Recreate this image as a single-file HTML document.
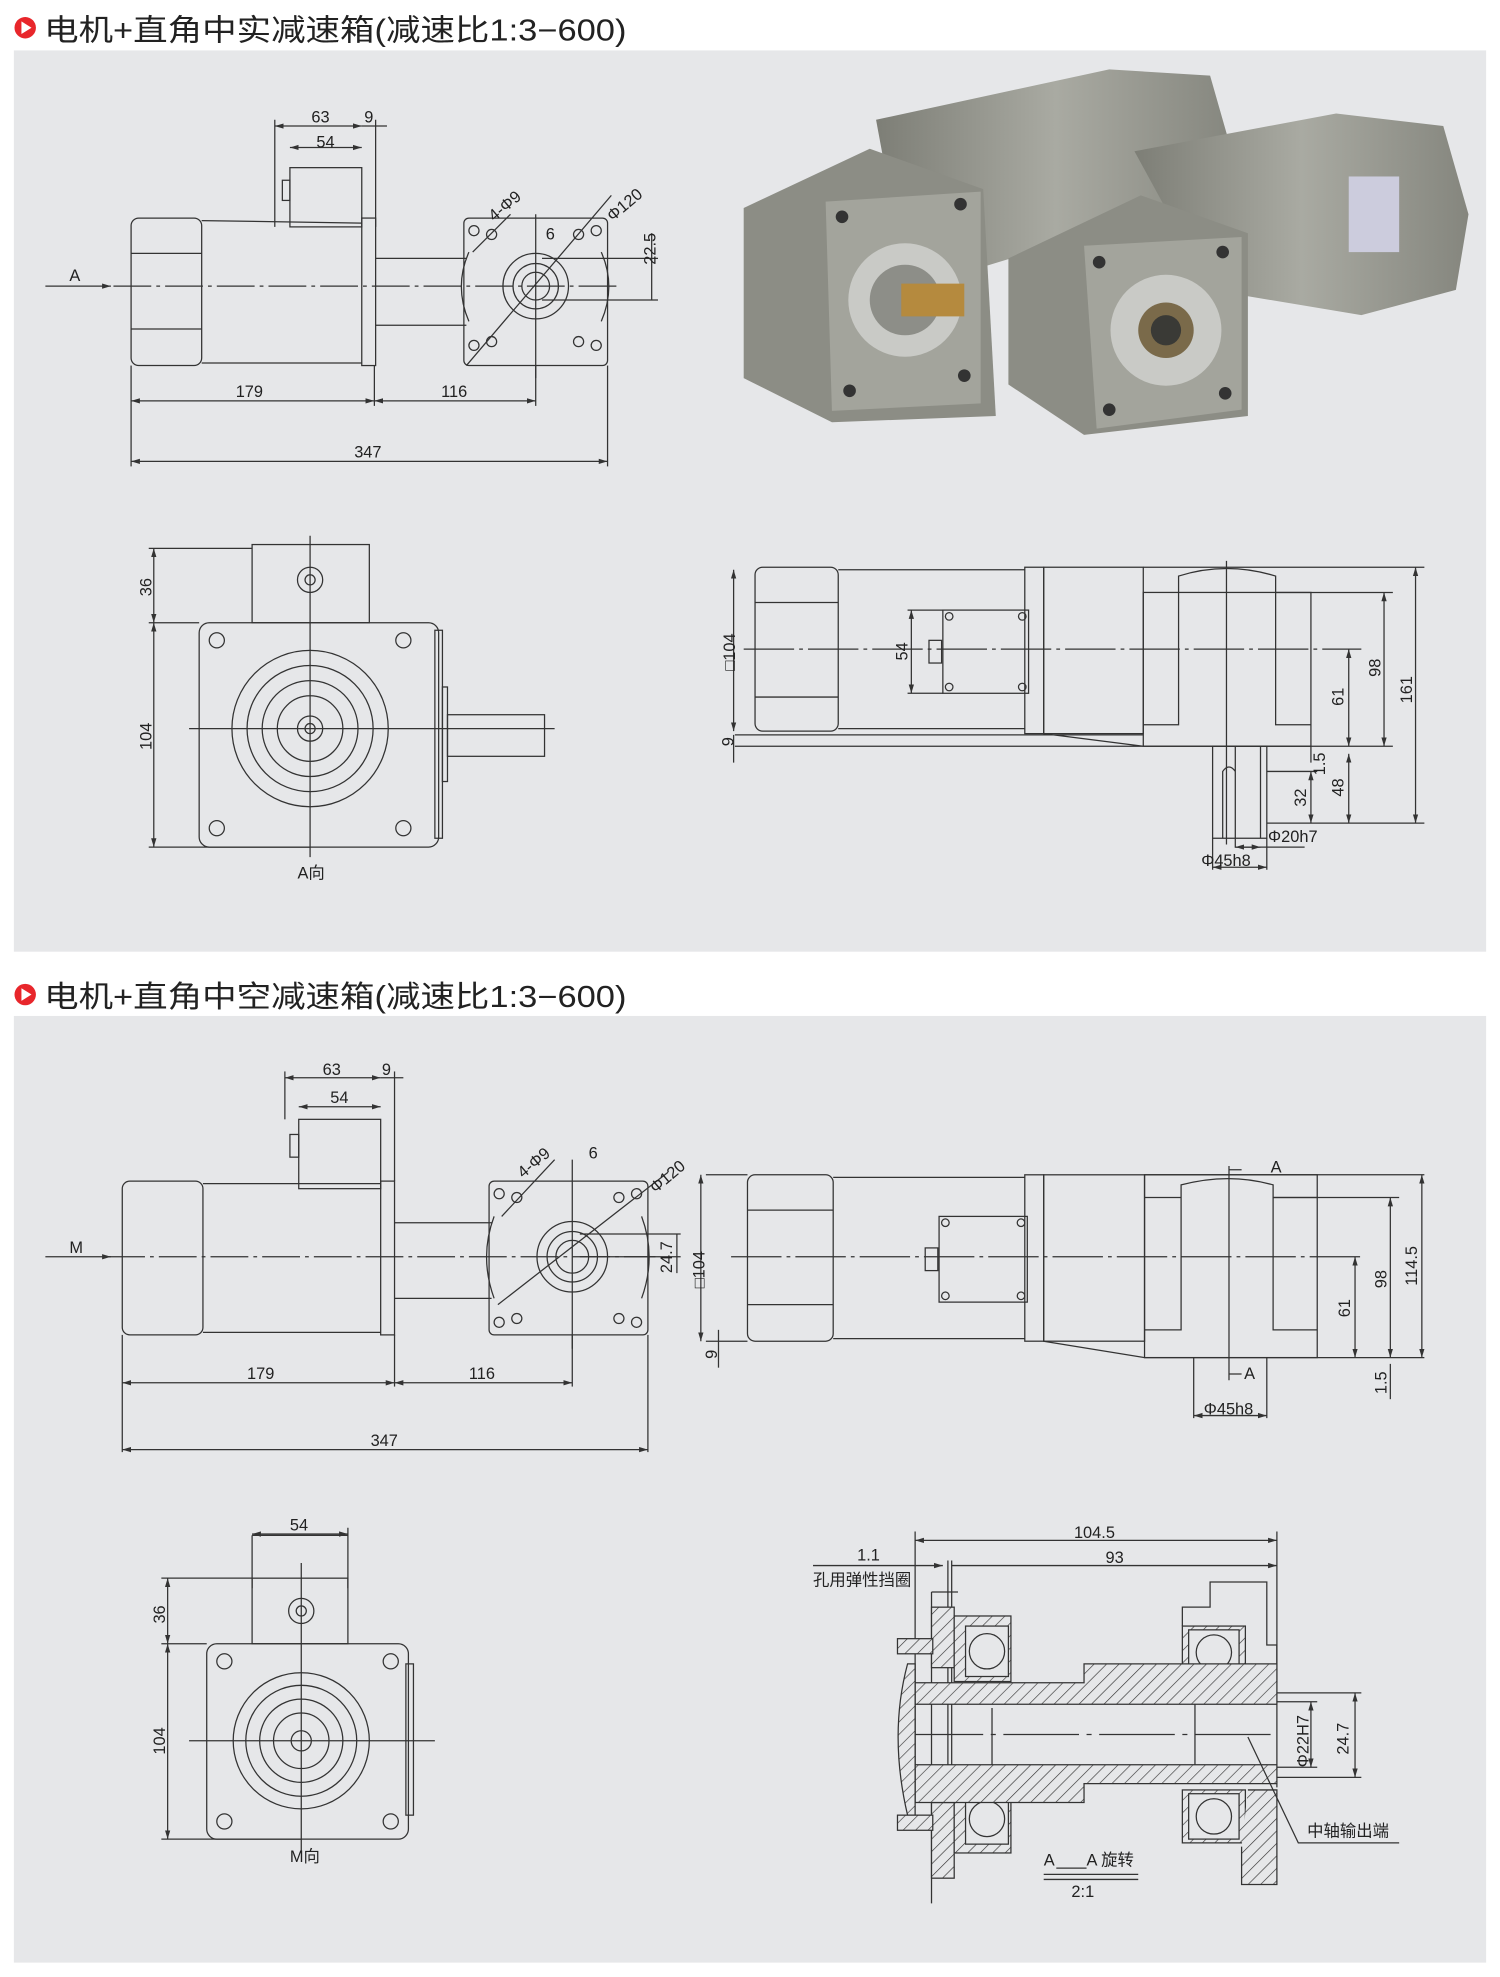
<!DOCTYPE html>
<html><head><meta charset="utf-8"><style>
html,body{margin:0;padding:0;background:#fff}
svg{display:block}
text{font-family:"Liberation Sans","Noto Sans CJK SC",sans-serif;fill:#222}
</style></head><body>
<svg width="1500" height="1977" viewBox="0 0 1190 1568.4" preserveAspectRatio="none" xmlns="http://www.w3.org/2000/svg">
<defs>
<pattern id="h" width="7" height="7" patternUnits="userSpaceOnUse" patternTransform="rotate(45)"><rect width="7" height="7" fill="#e6e7e9"/><line x1="0" y1="0" x2="0" y2="7" stroke="#333" stroke-width="1"/></pattern>
<marker id="a" viewBox="0 0 10 10" refX="10" refY="5" markerWidth="7" markerHeight="7" orient="auto-start-reverse"><path d="M0,2L10,5L0,8z" fill="#333"/></marker>
<linearGradient id="g1" x1="0" y1="0" x2="1" y2="0"><stop offset="0" stop-color="#7d7e76"/><stop offset="0.5" stop-color="#a9aaa2"/><stop offset="1" stop-color="#85867e"/></linearGradient>
</defs>
<rect width="1190" height="1568.4" fill="#fff"/>
<!-- Titles -->
<circle cx="20" cy="22" r="8.5" fill="#e8262b"/><path d="M17,17L25,22L17,27z" fill="#fff"/>
<text x="35" y="32" font-size="24" textLength="462" lengthAdjust="spacingAndGlyphs">电机+直角中实减速箱(减速比1:3−600)</text>
<circle cx="20" cy="789" r="8.5" fill="#e8262b"/><path d="M17,784L25,789L17,794z" fill="#fff"/>
<text x="35" y="799" font-size="24" textLength="462" lengthAdjust="spacingAndGlyphs">电机+直角中空减速箱(减速比1:3−600)</text>
<rect x="11" y="40" width="1168" height="715" fill="#e6e7e9"/>
<rect x="11" y="806" width="1168" height="751" fill="#e6e7e9"/>

<g fill="none" stroke="#333" stroke-width="1">
<!-- ===== Panel1 side view ===== -->
<rect x="104" y="173" width="56" height="117" rx="6"/>
<line x1="104" y1="201" x2="160" y2="201"/><line x1="104" y1="261" x2="160" y2="261"/>
<path d="M160,175L287,177M160,288L287,288"/>
<rect x="287" y="173" width="11" height="117"/>
<rect x="230" y="133" width="57" height="47"/><rect x="224" y="143" width="6" height="16"/>
<path d="M298,205H370M298,258H370"/>
<rect x="368" y="173" width="114" height="117" rx="4"/>
<circle cx="425" cy="227" r="26"/><circle cx="425" cy="227" r="18"/><circle cx="425" cy="227" r="11"/>
<circle cx="376" cy="183" r="4"/><circle cx="473" cy="183" r="4"/><circle cx="376" cy="274" r="4"/><circle cx="473" cy="274" r="4"/>
<circle cx="390" cy="186" r="4"/><circle cx="459" cy="186" r="4"/><circle cx="390" cy="271" r="4"/><circle cx="459" cy="271" r="4"/>
<path d="M372,200Q360,227 372,255M477,200Q489,227 477,255" />
<line x1="90" y1="227" x2="490" y2="227" stroke-dasharray="30,4,3,4"/>
<line x1="425" y1="170" x2="425" y2="300"/>
<line x1="370" y1="290" x2="485" y2="155"/>
<line x1="375" y1="200" x2="405" y2="170"/>
<line x1="36" y1="227" x2="88" y2="227" marker-end="url(#a)"/>
<line x1="218" y1="95" x2="218" y2="180"/><line x1="298" y1="95" x2="298" y2="180"/>
<line x1="218" y1="100" x2="287" y2="100" marker-start="url(#a)" marker-end="url(#a)"/>
<line x1="287" y1="100" x2="307" y2="100"/>
<line x1="230" y1="117" x2="287" y2="117" marker-start="url(#a)" marker-end="url(#a)"/>
<line x1="104" y1="290" x2="104" y2="370"/><line x1="297" y1="290" x2="297" y2="322"/><line x1="425" y1="290" x2="425" y2="322"/><line x1="482" y1="290" x2="482" y2="370"/>
<line x1="104" y1="318" x2="297" y2="318" marker-start="url(#a)" marker-end="url(#a)"/>
<line x1="297" y1="318" x2="425" y2="318" marker-start="url(#a)" marker-end="url(#a)"/>
<line x1="104" y1="366" x2="482" y2="366" marker-start="url(#a)" marker-end="url(#a)"/>
<path d="M430,205H522M430,238H522"/>
<line x1="517" y1="185" x2="517" y2="238"/>

<!-- ===== Panel1 A view ===== -->
<rect x="200" y="432" width="93" height="62"/>
<circle cx="246" cy="460" r="10"/><circle cx="246" cy="460" r="4"/>
<rect x="158" y="494" width="190" height="178" rx="8"/>
<rect x="345" y="500" width="6" height="165"/>
<rect x="351" y="545" width="4" height="75"/>
<rect x="355" y="567" width="77" height="33"/>
<circle cx="246" cy="578" r="62"/><circle cx="246" cy="578" r="50"/><circle cx="246" cy="578" r="38"/><circle cx="246" cy="578" r="26"/><circle cx="246" cy="578" r="10"/><circle cx="246" cy="578" r="4"/>
<circle cx="172" cy="508" r="6"/><circle cx="320" cy="508" r="6"/><circle cx="172" cy="657" r="6"/><circle cx="320" cy="657" r="6"/>
<line x1="150" y1="578" x2="440" y2="578"/><line x1="246" y1="425" x2="246" y2="680"/>
<path d="M118,435H200M118,494H158M118,672H246"/>
<line x1="122" y1="435" x2="122" y2="494" marker-start="url(#a)" marker-end="url(#a)"/>
<line x1="122" y1="494" x2="122" y2="672" marker-start="url(#a)" marker-end="url(#a)"/>

<!-- ===== Panel1 right view ===== -->
<rect x="599" y="450" width="66" height="130" rx="6"/>
<path d="M599,478H665M599,553H665M665,452L813,452M665,578L813,578"/>
<rect x="813" y="450" width="15" height="132"/>
<rect x="748" y="484" width="68" height="66"/><rect x="737" y="508" width="10" height="18"/>
<circle cx="753" cy="489" r="3"/><circle cx="811" cy="489" r="3"/><circle cx="753" cy="545" r="3"/><circle cx="811" cy="545" r="3"/>
<rect x="828" y="450" width="79" height="132"/>
<rect x="907" y="470" width="133" height="122"/>
<path d="M935,470V457Q973,445 1012,457V470"/>
<path d="M935,470V575H907M1012,470V575H1040"/>
<path d="M583,583H907M583,592H1040M828,582L907,592"/>
<rect x="962" y="592" width="43" height="73"/>
<path d="M980,592V665M1000,592V665M970,665V612Q975,605 980,612"/>
<line x1="590" y1="515" x2="1080" y2="515" stroke-dasharray="40,4,3,4"/>
<line x1="973" y1="445" x2="973" y2="670"/>
<path d="M1012,470H1105M1040,592H1105M1005,653H1130M907,450H1130"/>
<line x1="582" y1="452" x2="582" y2="580" marker-start="url(#a)" marker-end="url(#a)"/>
<line x1="582" y1="583" x2="582" y2="605"/>
<line x1="723" y1="484" x2="723" y2="550" marker-start="url(#a)" marker-end="url(#a)"/>
<path d="M720,484H748M720,550H748"/>
<line x1="1070" y1="515" x2="1070" y2="592" marker-start="url(#a)" marker-end="url(#a)"/>
<line x1="1098" y1="470" x2="1098" y2="592" marker-start="url(#a)" marker-end="url(#a)"/>
<line x1="1123" y1="450" x2="1123" y2="653" marker-start="url(#a)" marker-end="url(#a)"/>
<line x1="1070" y1="598" x2="1070" y2="653" marker-start="url(#a)" marker-end="url(#a)"/>
<line x1="1040" y1="612" x2="1040" y2="653" marker-start="url(#a)" marker-end="url(#a)"/>
<path d="M1005,612H1045M1040,592V605"/>
<path d="M962,665V690M1005,665V690M980,665V672H1035"/>
<line x1="962" y1="688" x2="1005" y2="688" marker-start="url(#a)" marker-end="url(#a)"/>
<line x1="980" y1="672" x2="1000" y2="672" marker-start="url(#a)" marker-end="url(#a)"/>

<!-- ===== Panel2 side view ===== -->
<rect x="97" y="937" width="64" height="122" rx="6"/>
<path d="M161,939L302,939M161,1057L302,1057"/>
<rect x="302" y="937" width="11" height="122"/>
<rect x="237" y="888" width="65" height="55"/><rect x="230" y="900" width="7" height="18"/>
<path d="M313,970H390M313,1030H390"/>
<rect x="388" y="937" width="126" height="122" rx="4"/>
<circle cx="454" cy="997" r="28"/><circle cx="454" cy="997" r="20"/><circle cx="454" cy="997" r="13"/>
<circle cx="396" cy="947" r="4"/><circle cx="505" cy="947" r="4"/><circle cx="396" cy="1049" r="4"/><circle cx="505" cy="1049" r="4"/>
<circle cx="410" cy="950" r="4"/><circle cx="491" cy="950" r="4"/><circle cx="410" cy="1046" r="4"/><circle cx="491" cy="1046" r="4"/>
<path d="M392,965Q380,997 392,1030M509,965Q521,997 509,1030"/>
<line x1="85" y1="997" x2="520" y2="997" stroke-dasharray="30,4,3,4"/>
<line x1="454" y1="920" x2="454" y2="1070"/>
<line x1="395" y1="1035" x2="530" y2="930"/>
<line x1="398" y1="965" x2="440" y2="920"/>
<line x1="36" y1="997" x2="88" y2="997" marker-end="url(#a)"/>
<line x1="226" y1="850" x2="226" y2="888"/><line x1="313" y1="850" x2="313" y2="937"/>
<line x1="226" y1="855" x2="302" y2="855" marker-start="url(#a)" marker-end="url(#a)"/>
<line x1="302" y1="855" x2="320" y2="855"/>
<line x1="237" y1="878" x2="302" y2="878" marker-start="url(#a)" marker-end="url(#a)"/>
<line x1="97" y1="1059" x2="97" y2="1152"/><line x1="313" y1="1059" x2="313" y2="1100"/><line x1="454" y1="1059" x2="454" y2="1100"/><line x1="514" y1="1059" x2="514" y2="1152"/>
<line x1="97" y1="1097" x2="313" y2="1097" marker-start="url(#a)" marker-end="url(#a)"/>
<line x1="313" y1="1097" x2="454" y2="1097" marker-start="url(#a)" marker-end="url(#a)"/>
<line x1="97" y1="1150" x2="514" y2="1150" marker-start="url(#a)" marker-end="url(#a)"/>
<path d="M460,979H540M460,997H540"/>
<line x1="537" y1="979" x2="537" y2="1010"/>

<!-- ===== Panel2 M view ===== -->
<path d="M200,1218H276M200,1218V1260"/>
<line x1="200" y1="1217" x2="276" y2="1217" marker-start="url(#a)" marker-end="url(#a)"/>
<line x1="276" y1="1212" x2="276" y2="1260"/>
<rect x="200" y="1252" width="76" height="52"/>
<circle cx="239" cy="1278" r="10"/><circle cx="239" cy="1278" r="4"/>
<rect x="164" y="1304" width="160" height="155" rx="8"/>
<rect x="322" y="1320" width="6" height="120"/>
<circle cx="239" cy="1381" r="54"/><circle cx="239" cy="1381" r="44"/><circle cx="239" cy="1381" r="33"/><circle cx="239" cy="1381" r="22"/><circle cx="239" cy="1381" r="8"/>
<circle cx="178" cy="1318" r="6"/><circle cx="310" cy="1318" r="6"/><circle cx="178" cy="1445" r="6"/><circle cx="310" cy="1445" r="6"/>
<line x1="150" y1="1381" x2="345" y2="1381"/><line x1="239" y1="1240" x2="239" y2="1470"/>
<path d="M128,1252H200M128,1304H164M128,1459H239"/>
<line x1="133" y1="1252" x2="133" y2="1304" marker-start="url(#a)" marker-end="url(#a)"/>
<line x1="133" y1="1304" x2="133" y2="1459" marker-start="url(#a)" marker-end="url(#a)"/>

<!-- ===== Panel2 right view ===== -->
<rect x="593" y="932" width="68" height="132" rx="6"/>
<path d="M593,960H661M593,1035H661M661,934L813,934M661,1062L813,1062"/>
<rect x="813" y="932" width="15" height="132"/>
<rect x="745" y="965" width="70" height="68"/><rect x="734" y="990" width="10" height="18"/>
<circle cx="750" cy="970" r="3"/><circle cx="810" cy="970" r="3"/><circle cx="750" cy="1028" r="3"/><circle cx="810" cy="1028" r="3"/>
<rect x="828" y="932" width="80" height="132"/>
<rect x="908" y="932" width="137" height="145"/>
<path d="M937,950V940Q975,930 1010,940V950H1045M937,950H908"/>
<path d="M937,950V1055H908M1010,950V1055H1045"/>
<path d="M828,1064L908,1077M908,1077H1045"/>
<line x1="580" y1="997" x2="1080" y2="997" stroke-dasharray="40,4,3,4"/>
<line x1="975" y1="925" x2="975" y2="1095"/>
<path d="M975,928H985M975,1090H985"/>
<path d="M560,932H593M560,1064H593M1010,950H1110M1045,1077H1130M908,932H1130"/>
<line x1="556" y1="932" x2="556" y2="1064" marker-start="url(#a)" marker-end="url(#a)"/>
<line x1="570" y1="1055" x2="570" y2="1085"/>
<line x1="1075" y1="997" x2="1075" y2="1077" marker-start="url(#a)" marker-end="url(#a)"/>
<line x1="1103" y1="950" x2="1103" y2="1077" marker-start="url(#a)" marker-end="url(#a)"/>
<line x1="1128" y1="932" x2="1128" y2="1077" marker-start="url(#a)" marker-end="url(#a)"/>
<line x1="1103" y1="1082" x2="1103" y2="1110"/>
<path d="M947,1077V1125M1005,1077V1125"/>
<line x1="947" y1="1123" x2="1005" y2="1123" marker-start="url(#a)" marker-end="url(#a)"/>

<!-- ===== Section ===== -->
<line x1="726" y1="1215" x2="726" y2="1335"/><line x1="1013" y1="1215" x2="1013" y2="1418"/>
<line x1="726" y1="1222" x2="1013" y2="1222" marker-start="url(#a)" marker-end="url(#a)"/>
<line x1="755" y1="1242" x2="1013" y2="1242" marker-end="url(#a)"/>
<line x1="645" y1="1242" x2="748" y2="1242" marker-end="url(#a)"/>
<line x1="752" y1="1238" x2="752" y2="1490"/><line x1="755" y1="1238" x2="755" y2="1490"/>
<path d="M739,1263V1510M739,1263H760"/>
<rect x="739" y="1275" width="18" height="48" fill="url(#h)"/>
<rect x="739" y="1430" width="18" height="60" fill="url(#h)"/>
<rect x="757" y="1282" width="45" height="52" fill="url(#h)"/>
<rect x="757" y="1418" width="45" height="52" fill="url(#h)"/>
<rect x="766" y="1290" width="34" height="40" fill="#e6e7e9"/><circle cx="783" cy="1310" r="14"/>
<rect x="766" y="1423" width="34" height="40" fill="#e6e7e9"/><circle cx="783" cy="1443" r="14"/>
<rect x="938" y="1290" width="50" height="42" fill="url(#h)"/>
<rect x="943" y="1293" width="40" height="36" fill="#e6e7e9"/><circle cx="963" cy="1311" r="14"/>
<rect x="938" y="1420" width="50" height="42" fill="url(#h)"/>
<rect x="943" y="1423" width="40" height="36" fill="#e6e7e9"/><circle cx="963" cy="1441" r="14"/>
<path d="M990,1420H1013V1495H985V1465" fill="url(#h)"/>
<path d="M938,1290V1275H960V1255H1005V1305H1013V1335"/>
<path d="M726,1335H860V1320H1013V1352H726Z" fill="url(#h)"/>
<path d="M726,1400H1013V1415H860V1430H726Z" fill="url(#h)"/>
<path d="M726,1352V1400M787,1355V1400M948,1352V1400"/>
<line x1="720" y1="1376" x2="1010" y2="1376" stroke-dasharray="60,6,4,6"/>
<path d="M720,1320Q705,1376 720,1440L726,1440V1320Z" fill="url(#h)"/>
<rect x="712" y="1300" width="28" height="12" fill="url(#h)"/><rect x="712" y="1440" width="28" height="12" fill="url(#h)"/>
<path d="M1013,1350H1045M1013,1402H1045M1013,1343H1080M1013,1410H1080"/>
<line x1="1040" y1="1350" x2="1040" y2="1402" marker-start="url(#a)" marker-end="url(#a)"/>
<line x1="1075" y1="1343" x2="1075" y2="1410" marker-start="url(#a)" marker-end="url(#a)"/>
<path d="M990,1378L1030,1462H1110"/>
<path d="M828,1487H903M828,1491H903"/>
<line x1="838" y1="1482" x2="862" y2="1482"/>
</g>

<!-- ===== Photo approx ===== -->
<g stroke="none">
<polygon points="695,95 880,55 960,60 980,130 900,175 720,230" fill="url(#g1)"/>
<polygon points="590,165 690,118 780,150 790,330 660,335 590,300" fill="#8c8d85"/>
<polygon points="655,160 778,152 778,320 660,326" fill="#a3a49c"/>
<circle cx="718" cy="238" r="45" fill="#c9cac6"/><circle cx="718" cy="238" r="28" fill="#8d8e88"/>
<rect x="715" y="225" width="50" height="26" fill="#b58a3e"/>
<circle cx="668" cy="172" r="5" fill="#333"/><circle cx="762" cy="162" r="5" fill="#333"/><circle cx="674" cy="310" r="5" fill="#333"/><circle cx="765" cy="298" r="5" fill="#333"/>
<polygon points="900,120 1060,90 1145,100 1165,170 1155,230 1080,250 960,230" fill="url(#g1)"/>
<rect x="1070" y="140" width="40" height="60" fill="#ccd"/>
<polygon points="800,205 905,155 990,185 990,330 860,345 800,305" fill="#8c8d85"/>
<polygon points="860,195 985,188 985,325 870,340" fill="#a3a49c"/>
<circle cx="925" cy="262" r="44" fill="#c9cac6"/><circle cx="925" cy="262" r="22" fill="#7a6a4a"/><circle cx="925" cy="262" r="12" fill="#3a3a36"/>
<circle cx="872" cy="208" r="5" fill="#333"/><circle cx="970" cy="200" r="5" fill="#333"/><circle cx="880" cy="325" r="5" fill="#333"/><circle cx="972" cy="312" r="5" fill="#333"/>
</g>

<!-- ===== Labels ===== -->
<g font-size="13">
<text x="55" y="223">A</text>
<text x="247" y="97">63</text><text x="289" y="97">9</text><text x="251" y="117">54</text>
<text x="187" y="315">179</text><text x="350" y="315">116</text><text x="281" y="363">347</text>
<text x="433" y="190">6</text>
<text transform="translate(392,176) rotate(-40)">4-Φ9</text>
<text transform="translate(486,176) rotate(-40)">Φ120</text>
<text transform="translate(520,210) rotate(-90)">22.5</text>
<text transform="translate(120,473) rotate(-90)">36</text>
<text transform="translate(120,595) rotate(-90)">104</text>
<text x="236" y="697">A向</text>
<text transform="translate(583,532) rotate(-90)">□104</text>
<text transform="translate(582,592) rotate(-90)">9</text>
<text transform="translate(720,524) rotate(-90)">54</text>
<text transform="translate(1066,560) rotate(-90)">61</text>
<text transform="translate(1095,537) rotate(-90)">98</text>
<text transform="translate(1120,558) rotate(-90)">161</text>
<text transform="translate(1051,615) rotate(-90)">1.5</text>
<text transform="translate(1066,632) rotate(-90)">48</text>
<text transform="translate(1036,640) rotate(-90)">32</text>
<text x="1006" y="668">Φ20h7</text><text x="953" y="687">Φ45h8</text>
<text x="55" y="994">M</text>
<text x="256" y="853">63</text><text x="303" y="853">9</text><text x="262" y="875">54</text>
<text x="196" y="1094">179</text><text x="372" y="1094">116</text><text x="294" y="1147">347</text>
<text x="467" y="919">6</text>
<text transform="translate(415,935) rotate(-40)">4-Φ9</text>
<text transform="translate(520,947) rotate(-40)">Φ120</text>
<text transform="translate(533,1010) rotate(-90)">24.7</text>
<text x="230" y="1214">54</text>
<text transform="translate(131,1288) rotate(-90)">36</text>
<text transform="translate(131,1392) rotate(-90)">104</text>
<text x="230" y="1477">M向</text>
<text transform="translate(559,1022) rotate(-90)">□104</text>
<text transform="translate(569,1078) rotate(-90)">9</text>
<text x="1008" y="930">A</text><text x="987" y="1094">A</text>
<text transform="translate(1071,1045) rotate(-90)">61</text>
<text transform="translate(1100,1022) rotate(-90)">98</text>
<text transform="translate(1124,1020) rotate(-90)">114.5</text>
<text transform="translate(1100,1106) rotate(-90)">1.5</text>
<text x="955" y="1122">Φ45h8</text>
<text x="852" y="1220">104.5</text><text x="877" y="1240">93</text>
<text x="680" y="1238">1.1</text>
<text x="645" y="1258">孔用弹性挡圈</text>
<text transform="translate(1038,1402) rotate(-90)">Φ22H7</text>
<text transform="translate(1070,1392) rotate(-90)">24.7</text>
<text x="1037" y="1457">中轴输出端</text>
<text x="828" y="1480">A</text><text x="862" y="1480">A 旋转</text>
<text x="850" y="1505">2:1</text>
</g>
</svg>
</body></html>
